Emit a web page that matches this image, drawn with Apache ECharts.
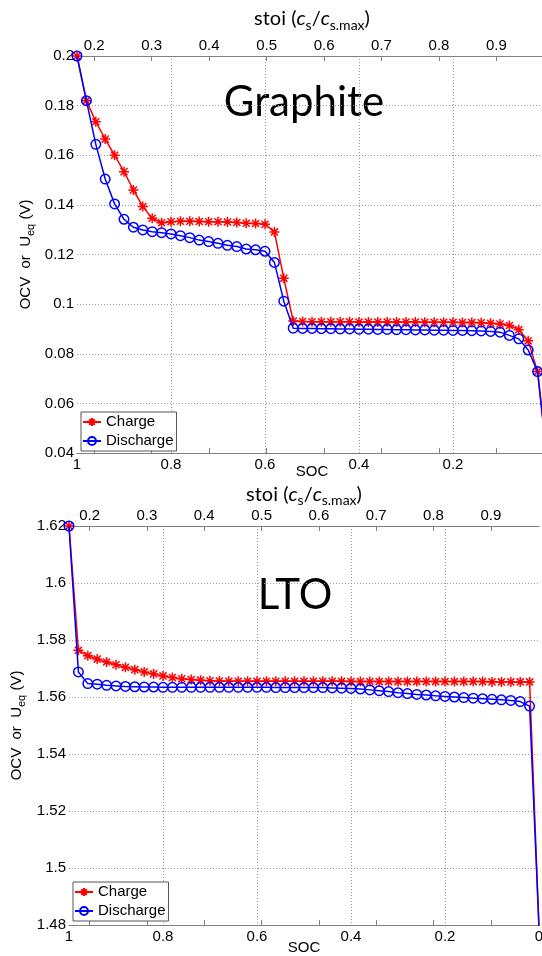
<!DOCTYPE html>
<html><head><meta charset="utf-8">
<script src="https://cdn.jsdelivr.net/npm/echarts@6/dist/echarts.min.js"></script>
<style>html,body{margin:0;padding:0;background:#fff}#c{width:542px;height:956px}</style>
</head><body><div id="c"></div>
<script>
// ---------- data ----------
const soc = [1,0.98,0.96,0.94,0.92,0.9,0.88,0.86,0.84,0.82,0.8,0.78,0.76,0.74,0.72,0.7,0.68,0.66,0.64,0.62,0.6,0.58,0.56,0.54,0.52,0.5,0.48,0.46,0.44,0.42,0.4,0.38,0.36,0.34,0.32,0.3,0.28,0.26,0.24,0.22,0.2,0.18,0.16,0.14,0.12,0.1,0.08,0.06,0.04,0.02,0];

const graphiteCharge = [0.200,0.182,0.1735,0.1665,0.1600,0.1534,0.1460,0.1393,0.1346,0.1328,
 0.1332,0.1334,0.1334,0.1333,0.1332,0.1332,0.1331,0.1329,0.1326,0.1325,
 0.1322,0.1291,0.1104,0.0932,0.0930,0.0929,0.0929,0.0929,0.0929,0.0929,
 0.0928,0.0928,0.0928,0.0928,0.0928,0.0928,0.0928,0.0927,0.0927,0.0927,
 0.0927,0.0926,0.0926,0.0925,0.0923,0.0920,0.0914,0.0897,0.0852,0.0728,
 0.038];
const graphiteDischarge = [0.200,0.182,0.1644,0.1504,0.1404,0.1342,0.1310,0.1299,0.1292,0.1288,
 0.1283,0.1276,0.1268,0.1258,0.1252,0.1245,0.1237,0.1232,0.1222,0.1219,
 0.1213,0.1168,0.1012,0.0903,0.0902,0.0902,0.0901,0.0901,0.0900,0.0900,
 0.0899,0.0899,0.0898,0.0898,0.0897,0.0897,0.0896,0.0896,0.0895,0.0895,
 0.0894,0.0894,0.0893,0.0892,0.0890,0.0887,0.0874,0.0860,0.0815,0.0728,
 0.038];
const ltoCharge = [1.620,1.5764,1.5745,1.5733,1.5723,1.5713,1.5704,1.5696,1.5688,1.5681,
 1.5674,1.5668,1.5664,1.5661,1.5659,1.5657,1.5656,1.5655,1.5655,1.5655,
 1.5655,1.5655,1.5655,1.5655,1.5655,1.5655,1.5655,1.5655,1.5655,1.5655,
 1.5654,1.5654,1.5654,1.5654,1.5654,1.5654,1.5654,1.5654,1.5654,1.5654,
 1.5654,1.5654,1.5654,1.5654,1.5654,1.5653,1.5653,1.5653,1.5653,1.5653,
 1.479];
const ltoDischarge = [1.620,1.5688,1.5647,1.5645,1.5641,1.5639,1.5637,1.5636,1.5635,1.5635,
 1.5634,1.5634,1.5634,1.5634,1.5634,1.5634,1.5634,1.5634,1.5634,1.5634,
 1.5634,1.5634,1.5633,1.5633,1.5633,1.5633,1.5633,1.5633,1.5632,1.5631,
 1.5630,1.5628,1.5625,1.5622,1.5619,1.5615,1.5612,1.5609,1.5607,1.5604,
 1.5602,1.5600,1.5598,1.5596,1.5594,1.5592,1.5590,1.5588,1.5584,1.5568,
 1.479];

const stoiTicks = [0.2,0.3,0.4,0.5,0.6,0.7,0.8,0.9];
const graphiteStoiRange = [0.170, 0.988];
const ltoStoiRange = [0.164, 0.984];
const graphiteYRange = [0.04, 0.2];
const ltoYRange = [1.48, 1.62];
const seriesNames = ['Charge', 'Discharge'];
const panelTitles = ['Graphite', 'LTO'];

// ---------- styling ----------
const FONT = "'Liberation Sans', Arial, sans-serif";
const TFONT = "Lato, 'Noto Sans', sans-serif";
const AX = '#808080';
const GRIDLINE = {color:'#9a9a9a', type:[1,2], width:1};
const RED = '#ff0000', BLUE = '#0000ff';
const STAR = 'path://M0,-10L0,10M-10,0L10,0M-7.07,-7.07L7.07,7.07M-7.07,7.07L7.07,-7.07';
const labelStyle = {color:'#000', fontSize:15, fontFamily:FONT};

function pairs(xs, ys){ return xs.map((x,i)=>[x, ys[i]]); }

const grids = [
  {left:77, top:56, width:470, height:397, outerBoundsMode:'none', containLabel:false},
  {left:69, top:526, width:470, height:399, outerBoundsMode:'none', containLabel:false}
];
const stoiRanges = [graphiteStoiRange, ltoStoiRange];
const yRanges = [graphiteYRange, ltoYRange];
const socNameGap = [11, 15];
const stoiNameGap = [24, 18];
const yNameGap = [41, 42];

const stoiName = '{a|stoi (}{i|c}{s|s}{a|/}{i|c}{s|s.max}{a|)}';
const stoiRich = {
  a:{fontFamily:TFONT, fontSize:20, color:'#000', padding:[0,0,3,0], verticalAlign:'bottom'},
  i:{fontFamily:TFONT, fontSize:20, fontStyle:'italic', color:'#000', padding:[0,0,3,0], verticalAlign:'bottom'},
  s:{fontFamily:TFONT, fontSize:14, color:'#000', verticalAlign:'bottom'}
};

const xAxis = [], yAxis = [];
grids.forEach((g, k) => {
  // SOC axis (bottom)
  xAxis.push({gridIndex:k, type:'value', position:'bottom', min:0, max:1, interval:0.2, inverse:true,
    axisLine:{show:true, onZero:false, lineStyle:{color:AX, width:1}},
    axisTick:{show:false},
    axisLabel:Object.assign({margin:4}, labelStyle),
    splitLine:{show:true, showMinLine:false, showMaxLine:false, lineStyle:GRIDLINE},
    name:'SOC', nameLocation:'middle', nameGap:socNameGap[k], nameMoveOverlap:false,
    nameTextStyle:{color:'#000', fontSize:15, fontFamily:FONT}
  });
  // stoi axis (top)
  xAxis.push({gridIndex:k, type:'value', position:'top', min:stoiRanges[k][0], max:stoiRanges[k][1],
    axisLine:{show:true, onZero:false, lineStyle:{color:AX, width:1}},
    axisTick:{show:true, inside:true, length:5, customValues:stoiTicks, lineStyle:{color:AX}},
    axisLabel:Object.assign({margin:3, customValues:stoiTicks, formatter:v=>String(+v.toFixed(1))}, labelStyle),
    splitLine:{show:false},
    name:stoiName, nameLocation:'middle', nameGap:stoiNameGap[k],
    nameTextStyle:{rich:stoiRich}
  });
  // stoi ticks mirrored on bottom
  xAxis.push({gridIndex:k, type:'value', position:'bottom', min:stoiRanges[k][0], max:stoiRanges[k][1],
    axisLine:{show:false},
    axisTick:{show:true, inside:true, length:5, customValues:stoiTicks, lineStyle:{color:AX}},
    axisLabel:{show:false}, splitLine:{show:false}
  });
  yAxis.push({gridIndex:k, type:'value', min:yRanges[k][0], max:yRanges[k][1], interval:0.02,
    axisLine:{show:false}, axisTick:{show:false},
    axisLabel:Object.assign({margin:3}, labelStyle),
    splitLine:{show:true, showMinLine:false, showMaxLine:false, lineStyle:GRIDLINE},
    name:'{a|OCV  or  U}{s|eq}{a| (V)}', nameLocation:'middle', nameGap:yNameGap[k], nameRotate:90,
    nameMoveOverlap:false,
    nameTextStyle:{rich:{
      a:{fontFamily:FONT, fontSize:15, color:'#000', padding:[0,0,3,0], verticalAlign:'bottom'},
      s:{fontFamily:FONT, fontSize:11, color:'#000', verticalAlign:'bottom'}
    }}
  });
});

function mkSeries(name, k, ys, charge){
  const col = charge ? RED : BLUE;
  return {
    name, type:'line', xAxisIndex:k*3, yAxisIndex:k, data:pairs(soc, ys),
    symbol: charge ? STAR : 'circle', symbolSize: charge ? 10 : 9.5, showAllSymbol:true,
    lineStyle:{color:col, width:1.5},
    itemStyle:{color:'rgba(255,255,255,0)', borderColor:col, borderWidth:1.5},
    emphasis:{disabled:true}, clip:true, z: charge ? 2 : 3
  };
}

const series = [
  mkSeries(seriesNames[0], 0, graphiteCharge, true),
  mkSeries(seriesNames[1], 0, graphiteDischarge, false),
  mkSeries(seriesNames[0], 1, ltoCharge, true),
  mkSeries(seriesNames[1], 1, ltoDischarge, false)
];

const legendBase = {orient:'vertical', data:seriesNames, itemWidth:18, itemHeight:10, itemGap:3,
  padding:[2,3,2,1], borderColor:'#555', borderWidth:1, backgroundColor:'#fff', borderRadius:0,
  textStyle:{color:'#000', fontSize:15, fontFamily:FONT, lineHeight:16}, selectedMode:false};

const option = {
  animation:false,
  backgroundColor:'#fff',
  grid: grids,
  xAxis, yAxis, series,
  legend:[
    Object.assign({left:81, top:412}, legendBase),
    Object.assign({left:73, top:882}, legendBase)
  ],
  graphic:[
    {type:'text', x:304, y:102, style:{text:panelTitles[0], font:'42px '+TFONT, fill:'#000', align:'center', verticalAlign:'middle'}},
    {type:'text', x:295, y:595, style:{text:panelTitles[1], font:'42px '+TFONT, fill:'#000', align:'center', verticalAlign:'middle'}}
  ]
};

const chart = echarts.init(document.getElementById('c'), null, {renderer:'canvas'});
chart.setOption(option);
</script>
</body></html>
